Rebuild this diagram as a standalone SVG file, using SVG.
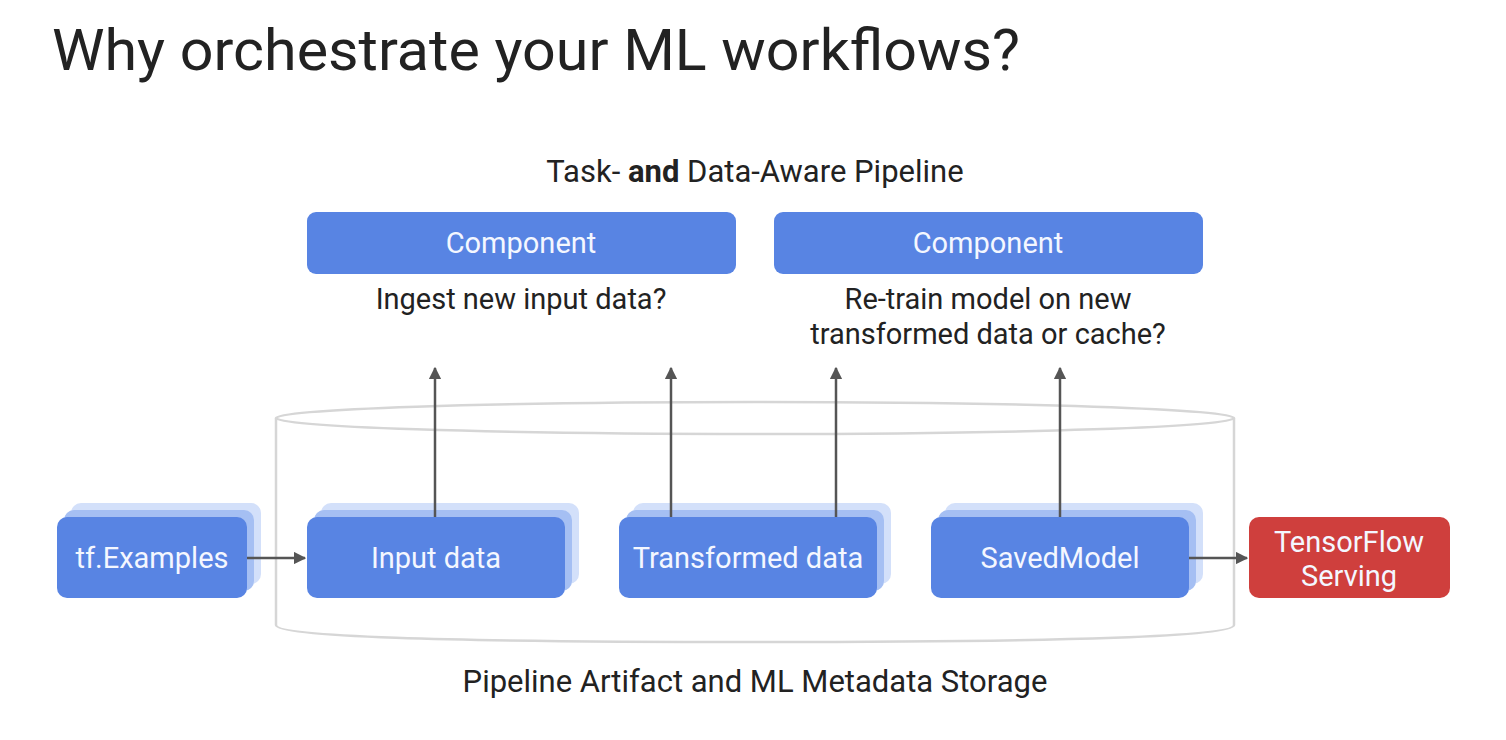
<svg xmlns="http://www.w3.org/2000/svg" width="1506" height="740" viewBox="0 0 1506 740">
<defs>
<style>
.t{font-family:Roboto,"Liberation Sans",sans-serif;fill:#222}
.w{font-family:Roboto,"Liberation Sans",sans-serif;fill:#f4f7ff;font-size:29px;text-anchor:middle}
.b{fill:#5884e3}
.b2{fill:#a5bff3}
.b3{fill:#d3e0fa}
.r{fill:#cf3f3d}
.ln{stroke:#555;stroke-width:2.5;fill:none}
.cy{stroke:#d6d6d6;stroke-width:2.5;fill:none}
</style>
<marker id="ah" viewBox="0 0 10 10" refX="9" refY="5" markerWidth="5" markerHeight="5" orient="auto-start-reverse">
<path d="M0,0 L10,5 L0,10 z" fill="#555"/>
</marker>
</defs>
<rect width="1506" height="740" fill="#fff"/>
<text class="t" x="52" y="70" font-size="57" textLength="968" lengthAdjust="spacingAndGlyphs">Why orchestrate your ML workflows?</text>
<text class="t" x="755" y="182" font-size="31" text-anchor="middle">Task- <tspan font-weight="bold">and</tspan> Data-Aware Pipeline</text>
<g id="storage">
<path class="cy" d="M276,418 L276,625 Q276,642 755,642 Q1234,642 1234,625 L1234,418"/>
<ellipse class="cy" cx="755" cy="418" rx="479" ry="16"/>
</g>
<text class="t" x="755" y="692" font-size="31" text-anchor="middle">Pipeline Artifact and ML Metadata Storage</text>
<g id="component1">
<rect class="b" x="307" y="212" width="429" height="62" rx="9"/>
<text class="w" x="521" y="253">Component</text>
</g>
<text class="t" x="521" y="309" font-size="29" text-anchor="middle">Ingest new input data?</text>
<g id="component2">
<rect class="b" x="774" y="212" width="429" height="62" rx="9"/>
<text class="w" x="988" y="253">Component</text>
</g>
<text class="t" x="988" y="309" font-size="29" text-anchor="middle">Re-train model on new</text>
<text class="t" x="988" y="344" font-size="29" text-anchor="middle">transformed data or cache?</text>
<g id="tfexamples">
<rect class="b3" x="71" y="503" width="190" height="81" rx="10"/>
<rect class="b2" x="64" y="510" width="190" height="81" rx="10"/>
<rect class="b" x="57" y="517" width="190" height="81" rx="10"/>
<text class="w" x="152" y="568">tf.Examples</text>
</g>
<g id="inputdata">
<rect class="b3" x="321" y="503" width="258" height="81" rx="10"/>
<rect class="b2" x="314" y="510" width="258" height="81" rx="10"/>
<rect class="b" x="307" y="517" width="258" height="81" rx="10"/>
<text class="w" x="436" y="568">Input data</text>
</g>
<g id="transformed">
<rect class="b3" x="633" y="503" width="258" height="81" rx="10"/>
<rect class="b2" x="626" y="510" width="258" height="81" rx="10"/>
<rect class="b" x="619" y="517" width="258" height="81" rx="10"/>
<text class="w" x="748" y="568">Transformed data</text>
</g>
<g id="savedmodel">
<rect class="b3" x="945" y="503" width="258" height="81" rx="10"/>
<rect class="b2" x="938" y="510" width="258" height="81" rx="10"/>
<rect class="b" x="931" y="517" width="258" height="81" rx="10"/>
<text class="w" x="1060" y="568">SavedModel</text>
</g>
<g id="serving">
<rect class="r" x="1249" y="517" width="201" height="81" rx="10"/>
<text class="w" x="1349" y="552">TensorFlow</text>
<text class="w" x="1349" y="586">Serving</text>
</g>
<g id="connectors">
<line class="ln" x1="435" y1="517" x2="435" y2="368" marker-end="url(#ah)"/>
<line class="ln" x1="671" y1="517" x2="671" y2="368" marker-end="url(#ah)"/>
<line class="ln" x1="836" y1="517" x2="836" y2="368" marker-end="url(#ah)"/>
<line class="ln" x1="1060" y1="517" x2="1060" y2="368" marker-end="url(#ah)"/>
<line class="ln" x1="247" y1="558" x2="305" y2="558" marker-end="url(#ah)"/>
<line class="ln" x1="1189" y1="558" x2="1247" y2="558" marker-end="url(#ah)"/>
</g>
</svg>
